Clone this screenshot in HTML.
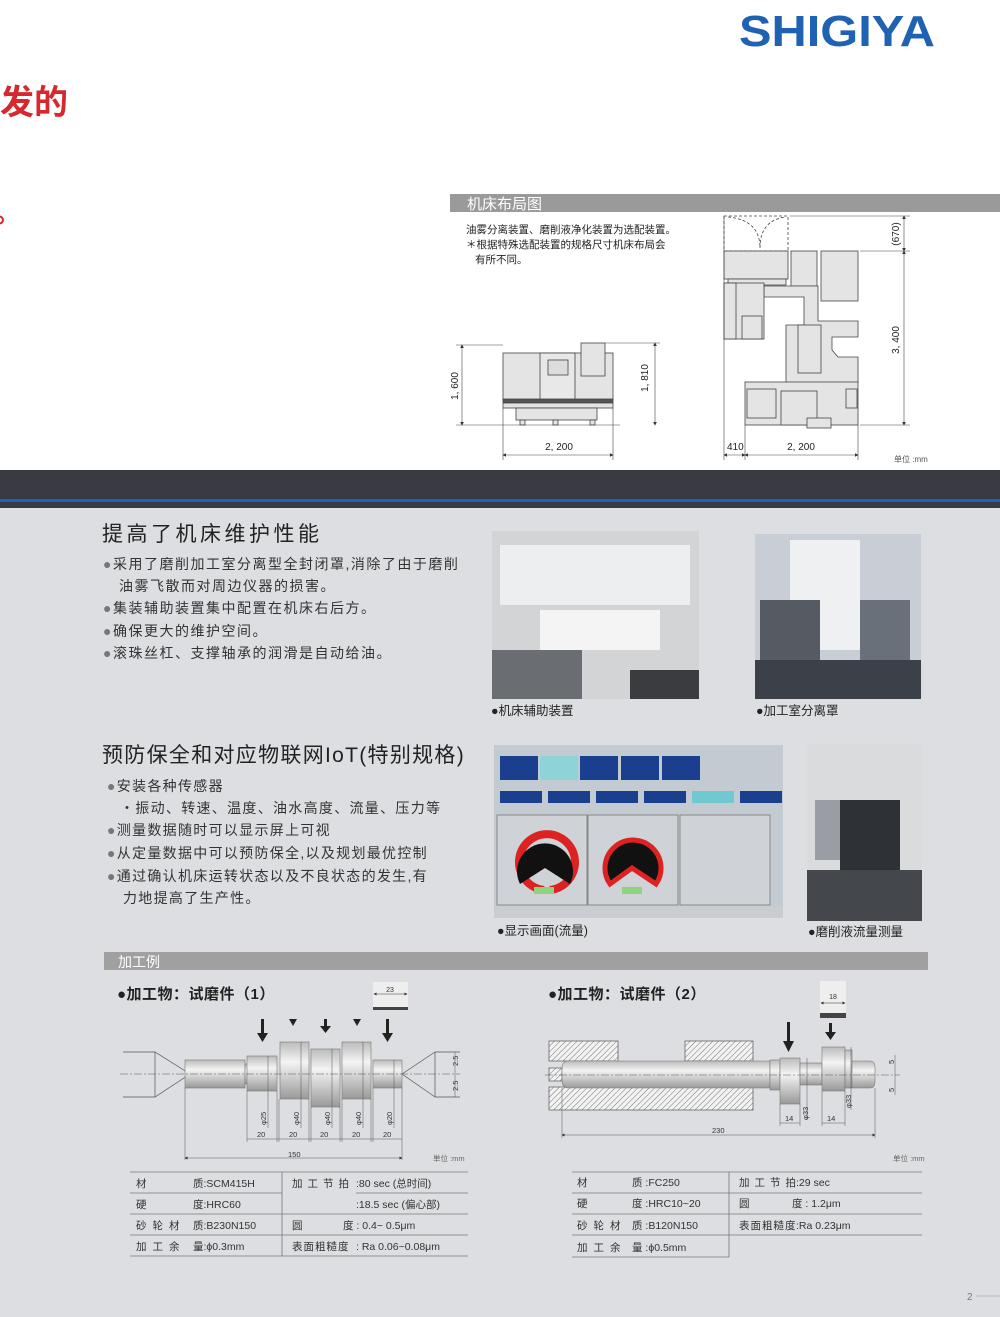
<!DOCTYPE html>
<html><head><meta charset="utf-8"><style>
html,body{margin:0;padding:0;background:#fff}
svg{display:block}
text{font-family:"Liberation Sans","Noto Sans CJK SC",sans-serif}
</style></head><body>
<svg width="1000" height="1317" viewBox="0 0 1000 1317" xmlns="http://www.w3.org/2000/svg">
<defs>
<pattern id="hat" width="4" height="4" patternUnits="userSpaceOnUse" patternTransform="rotate(45)"><rect width="4" height="4" fill="#f2f2f2"/><line x1="0" y1="0" x2="0" y2="4" stroke="#777" stroke-width="1"/></pattern>
<linearGradient id="sh" x1="0" y1="0" x2="0" y2="1"><stop offset="0" stop-color="#bbb"/><stop offset="0.35" stop-color="#f4f4f4"/><stop offset="1" stop-color="#999"/></linearGradient>
<marker id="ar" markerWidth="6" markerHeight="6" refX="5" refY="3" orient="auto"><path d="M0,0 L6,3 L0,6z" fill="#333"/></marker>
<marker id="al" markerWidth="6" markerHeight="6" refX="1" refY="3" orient="auto"><path d="M6,0 L0,3 L6,6z" fill="#333"/></marker>
</defs>
<rect width="1000" height="470" fill="#fff"/>
<text x="739" y="46" font-size="44" font-weight="bold" fill="#1f62b3" textLength="196" lengthAdjust="spacingAndGlyphs">SHIGIYA</text>
<text x="0" y="114" font-size="34" font-weight="bold" fill="#d7282f">发的</text>
<text x="-6" y="222" font-size="28" font-weight="bold" fill="#d7282f">。</text>

<rect x="450" y="194" width="550" height="18" fill="#9a9a9a"/>
<text x="467" y="209" font-size="15" fill="#fff">机床布局图</text>
<text font-size="10.5" fill="#222"><tspan x="466" y="233">油雾分离装置、磨削液净化装置为选配装置。</tspan><tspan x="466" y="248">＊根据特殊选配装置的规格尺寸机床布局会</tspan><tspan x="475" y="263">有所不同。</tspan></text>

<!-- left machine -->
<g stroke="#444" stroke-width="0.8" fill="#e4e4e4">
<rect x="503" y="353" width="110" height="47"/>
<rect x="540" y="353" width="35" height="47" fill="#e8e8e8"/>
<rect x="548" y="360" width="20" height="15" fill="#ddd"/>
<rect x="581" y="343" width="24" height="33"/>
<rect x="503" y="399" width="110" height="4" fill="#555"/>
<rect x="503" y="403" width="110" height="5"/>
<rect x="516" y="408" width="81" height="12"/>
<rect x="520" y="420" width="5" height="5"/><rect x="553" y="420" width="5" height="5"/><rect x="590" y="420" width="5" height="5"/>
</g>
<g stroke="#444" stroke-width="0.6" fill="none">
<line x1="456" y1="345" x2="503" y2="345"/><line x1="456" y1="425" x2="620" y2="425"/>
<line x1="462" y1="345" x2="462" y2="425" marker-start="url(#al)" marker-end="url(#ar)"/>
<line x1="605" y1="343" x2="660" y2="343"/>
<line x1="655" y1="343" x2="655" y2="425" marker-start="url(#al)" marker-end="url(#ar)"/>
<line x1="503" y1="408" x2="503" y2="460"/><line x1="613" y1="408" x2="613" y2="460"/>
<line x1="503" y1="455" x2="613" y2="455" marker-start="url(#al)" marker-end="url(#ar)"/>
</g>
<text x="458" y="386" font-size="10" fill="#222" transform="rotate(-90 458 386)" text-anchor="middle">1, 600</text>
<text x="648" y="378" font-size="10" fill="#222" transform="rotate(-90 648 378)" text-anchor="middle">1, 810</text>
<text x="559" y="450" font-size="10" fill="#222" text-anchor="middle">2, 200</text>

<!-- right layout -->
<g stroke="#444" stroke-width="0.8" fill="#e4e4e4">
<rect x="724" y="216" width="64" height="35" fill="none" stroke-dasharray="3,2"/>
<path d="M728,217 Q760,220 760,248 Q760,220 786,217" fill="none" stroke-dasharray="3,2"/>
<rect x="724" y="251" width="64" height="28"/>
<rect x="728" y="279" width="58" height="6"/>
<rect x="791" y="251" width="26" height="35"/>
<rect x="821" y="251" width="37" height="50"/>
<path d="M764,286 H818 V321 H858 V337 H832 V350 L838,357 H858 V383 H786 V325 H804 V297 H764Z"/>
<rect x="798" y="325" width="23" height="48"/>
<rect x="724" y="283" width="40" height="56"/>
<rect x="724" y="283" width="12" height="56"/>
<rect x="742" y="316" width="20" height="23"/>
<rect x="745" y="382" width="113" height="43"/>
<rect x="747" y="389" width="29" height="29"/>
<rect x="781" y="391" width="36" height="34"/>
<rect x="846" y="389" width="11" height="19"/>
<rect x="807" y="418" width="24" height="10"/>
</g>
<g stroke="#444" stroke-width="0.6" fill="none">
<line x1="724" y1="216" x2="724" y2="460"/><line x1="745" y1="425" x2="745" y2="460"/><line x1="858" y1="425" x2="858" y2="460"/>
<line x1="724" y1="455" x2="745" y2="455" marker-start="url(#al)" marker-end="url(#ar)"/>
<line x1="745" y1="455" x2="858" y2="455" marker-start="url(#al)" marker-end="url(#ar)"/>
<line x1="860" y1="251" x2="910" y2="251"/><line x1="860" y1="425" x2="910" y2="425"/><line x1="790" y1="216" x2="910" y2="216"/>
<line x1="904" y1="216" x2="904" y2="251" marker-start="url(#al)" marker-end="url(#ar)"/>
<line x1="904" y1="251" x2="904" y2="425" marker-start="url(#al)" marker-end="url(#ar)"/>
</g>
<text x="899" y="234" font-size="10" fill="#222" transform="rotate(-90 899 234)" text-anchor="middle">(670)</text>
<text x="899" y="340" font-size="10" fill="#222" transform="rotate(-90 899 340)" text-anchor="middle">3, 400</text>
<text x="727" y="450" font-size="10" fill="#222">410</text>
<text x="801" y="450" font-size="10" fill="#222" text-anchor="middle">2, 200</text>
<text x="894" y="462" font-size="8" fill="#555">单位 :mm</text>

<!-- band -->
<rect x="0" y="470" width="1000" height="847" fill="#dcdee1"/>
<rect x="0" y="470" width="1000" height="38" fill="#393a42"/>
<rect x="0" y="499" width="1000" height="3" fill="#1a63b8"/>

<!-- section 1 -->
<text x="102" y="541" font-size="21" fill="#222" letter-spacing="3.5">提高了机床维护性能</text>
<g font-size="14" fill="#333" letter-spacing="1.5">
<text x="103" y="569"><tspan fill="#777">●</tspan>采用了磨削加工室分离型全封闭罩,消除了由于磨削</text>
<text x="119" y="591">油雾飞散而对周边仪器的损害。</text>
<text x="103" y="613"><tspan fill="#777">●</tspan>集装辅助装置集中配置在机床右后方。</text>
<text x="103" y="636"><tspan fill="#777">●</tspan>确保更大的维护空间。</text>
<text x="103" y="658"><tspan fill="#777">●</tspan>滚珠丝杠、支撑轴承的润滑是自动给油。</text>
</g>
<rect x="492" y="531" width="207" height="168" fill="#d2d4d6"/>
<rect x="500" y="545" width="190" height="60" fill="#eceef0"/>
<rect x="540" y="610" width="120" height="40" fill="#f4f4f4"/>
<rect x="492" y="650" width="90" height="49" fill="#6a6d72"/>
<rect x="630" y="670" width="69" height="29" fill="#3a3c40"/>
<rect x="755" y="534" width="166" height="165" fill="#c9ced6"/>
<rect x="790" y="540" width="70" height="110" fill="#eef0f2"/>
<rect x="760" y="600" width="60" height="60" fill="#555a63"/>
<rect x="860" y="600" width="50" height="60" fill="#6a707a"/>
<rect x="755" y="660" width="166" height="39" fill="#3c4048"/>
<text x="491" y="715" font-size="12.5" fill="#222">●机床辅助装置</text>
<text x="756" y="715" font-size="12.5" fill="#222">●加工室分离罩</text>

<!-- section 2 -->
<text x="102" y="762" font-size="21" fill="#222" letter-spacing="1.3">预防保全和对应物联网IoT(特别规格)</text>
<g font-size="14" fill="#333" letter-spacing="1.3">
<text x="107" y="791"><tspan fill="#777">●</tspan>安装各种传感器</text>
<text x="120" y="813">・振动、转速、温度、油水高度、流量、压力等</text>
<text x="107" y="835"><tspan fill="#777">●</tspan>测量数据随时可以显示屏上可视</text>
<text x="107" y="858"><tspan fill="#777">●</tspan>从定量数据中可以预防保全,以及规划最优控制</text>
<text x="107" y="881"><tspan fill="#777">●</tspan>通过确认机床运转状态以及不良状态的发生,有</text>
<text x="123" y="903">力地提高了生产性。</text>
</g>
<!-- screen -->
<rect x="494" y="745" width="289" height="173" fill="#c4cad2"/>
<g fill="#1b3f8f"><rect x="500" y="756" width="38" height="24"/><rect x="580" y="756" width="38" height="24"/><rect x="621" y="756" width="38" height="24"/><rect x="662" y="756" width="38" height="24"/>
<rect x="500" y="791" width="42" height="12"/><rect x="548" y="791" width="42" height="12"/><rect x="596" y="791" width="42" height="12"/><rect x="644" y="791" width="42" height="12"/><rect x="740" y="791" width="42" height="12"/></g>
<rect x="540" y="756" width="38" height="24" fill="#8fd3d8"/><rect x="692" y="791" width="42" height="12" fill="#6fc9cf"/>
<rect x="497" y="815" width="90" height="90" fill="#cfd3d8" stroke="#888"/><rect x="588" y="815" width="90" height="90" fill="#cfd3d8" stroke="#888"/><rect x="680" y="815" width="90" height="90" fill="#cfd3d8" stroke="#888"/>
<path d="M544,890 A28,28 0 1 1 550,890" fill="none" stroke="#d22" stroke-width="8"/>
<path d="M520,884 L545,868 L570,884 A28,28 0 1 0 520,884Z" fill="#111"/>
<path d="M610,884 L632,868 L656,884 A28,28 0 1 0 610,884Z" fill="#111" stroke="#d22" stroke-width="5"/>
<rect x="534" y="887" width="20" height="7" fill="#8fd37f"/><rect x="622" y="887" width="20" height="7" fill="#8fd37f"/>
<rect x="494" y="906" width="289" height="12" fill="#c9cdd2"/>
<rect x="807" y="744" width="115" height="177" fill="#d9dbdd"/>
<rect x="840" y="800" width="60" height="70" fill="#2e3136"/>
<rect x="815" y="800" width="25" height="60" fill="#9a9ea4"/>
<rect x="807" y="870" width="115" height="51" fill="#44474c"/>
<text x="497" y="935" font-size="12.5" fill="#222">●显示画面(流量)</text>
<text x="808" y="936" font-size="12.5" fill="#222">●磨削液流量测量</text>

<!-- 加工例 -->
<rect x="104" y="952" width="824" height="18" fill="#a0a0a0"/>
<text x="118" y="967" font-size="14" fill="#fff">加工例</text>

<!-- part 1 -->
<text x="117" y="999" font-size="15" font-weight="bold" fill="#222" letter-spacing="0.5">●加工物：试磨件（1）</text>
<rect x="373" y="982" width="35" height="28" fill="#eee"/><rect x="373" y="1007" width="35" height="3" fill="#444"/>
<line x1="374" y1="994" x2="407" y2="994" stroke="#333" stroke-width="0.5" marker-start="url(#al)" marker-end="url(#ar)"/>
<text x="390" y="992" font-size="7" text-anchor="middle" fill="#333">23</text>
<g fill="#222">
<rect x="261" y="1019" width="3" height="15"/><path d="M257,1033 h11 l-5.5,9z"/>
<path d="M289,1019 h8 l-4,7z"/>
<rect x="324" y="1019" width="3" height="9"/><path d="M320,1026 h11 l-5.5,7z"/>
<path d="M353,1019 h8 l-4,7z"/>
<rect x="386" y="1019" width="3" height="15"/><path d="M382,1033 h11 l-5.5,9z"/>
</g>
<g stroke="#555" stroke-width="0.7" fill="none">
<path d="M123,1052 H155 L190,1074 L155,1097 H123"/><line x1="155" y1="1052" x2="155" y2="1097"/>
<path d="M435,1052 L402,1074 L435,1097"/><line x1="435" y1="1052" x2="435" y2="1097"/><line x1="435" y1="1052" x2="460" y2="1052"/><line x1="435" y1="1097" x2="460" y2="1097"/>
</g>
<g stroke="#777" stroke-width="0.6" fill="url(#sh)">
<rect x="185" y="1060" width="60" height="28"/><rect x="245" y="1064" width="3" height="20"/>
<rect x="247" y="1056" width="30" height="35"/>
<rect x="280" y="1042" width="29" height="57"/>
<rect x="311" y="1049" width="29" height="58"/>
<rect x="342" y="1042" width="29" height="57"/>
<rect x="373" y="1060" width="29" height="28"/>
</g>
<line x1="120" y1="1074" x2="460" y2="1074" stroke="#555" stroke-width="0.5" stroke-dasharray="8,2,2,2"/>
<g stroke="#555" stroke-width="0.5" fill="none">
<line x1="247" y1="1091" x2="247" y2="1142"/><line x1="277" y1="1091" x2="277" y2="1142"/><line x1="279" y1="1099" x2="279" y2="1142"/><line x1="309" y1="1099" x2="309" y2="1142"/><line x1="311" y1="1107" x2="311" y2="1142"/><line x1="340" y1="1107" x2="340" y2="1142"/><line x1="342" y1="1099" x2="342" y2="1142"/><line x1="371" y1="1099" x2="371" y2="1142"/><line x1="373" y1="1088" x2="373" y2="1142"/><line x1="402" y1="1088" x2="402" y2="1160"/><line x1="185" y1="1088" x2="185" y2="1160"/>
<line x1="247" y1="1139" x2="402" y2="1139"/>
<line x1="185" y1="1158" x2="402" y2="1158" marker-start="url(#al)" marker-end="url(#ar)"/>
<line x1="268" y1="1056" x2="268" y2="1128"/><line x1="301" y1="1042" x2="301" y2="1128"/><line x1="332" y1="1049" x2="332" y2="1128"/><line x1="363" y1="1042" x2="363" y2="1128"/><line x1="394" y1="1060" x2="394" y2="1128"/>
<line x1="455" y1="1052" x2="455" y2="1097"/>
</g>
<g font-size="7.5" fill="#333">
<text x="257" y="1137">20</text><text x="289" y="1137">20</text><text x="320" y="1137">20</text><text x="352" y="1137">20</text><text x="383" y="1137">20</text>
<text x="288" y="1157">150</text>
<text x="266" y="1125" transform="rotate(-90 266 1125)">φ25</text><text x="299" y="1125" transform="rotate(-90 299 1125)">φ40</text><text x="330" y="1125" transform="rotate(-90 330 1125)">φ40</text><text x="361" y="1125" transform="rotate(-90 361 1125)">φ40</text><text x="392" y="1125" transform="rotate(-90 392 1125)">φ20</text>
<text x="458" y="1066" transform="rotate(-90 458 1066)">2.5</text><text x="458" y="1091" transform="rotate(-90 458 1091)">2.5</text>
<text x="433" y="1161" fill="#666">単位 :mm</text>
</g>
<!-- table 1 -->
<g stroke="#777" stroke-width="0.8">
<line x1="130" y1="1172" x2="468" y2="1172"/><line x1="130" y1="1193" x2="282" y2="1193"/><line x1="356" y1="1193" x2="468" y2="1193"/>
<line x1="130" y1="1214" x2="468" y2="1214"/><line x1="130" y1="1235" x2="468" y2="1235"/><line x1="130" y1="1256" x2="468" y2="1256"/>
<line x1="282" y1="1172" x2="282" y2="1256"/>
</g>
<g font-size="10.5" fill="#333">
<text x="136" y="1187">材</text><text x="193" y="1187">质:SCM415H</text>
<text x="136" y="1208">硬</text><text x="193" y="1208">度:HRC60</text>
<text x="136" y="1229" letter-spacing="6">砂轮材</text><text x="193" y="1229">质:B230N150</text>
<text x="136" y="1250" letter-spacing="6">加工余</text><text x="193" y="1250">量:ϕ0.3mm</text>
<text x="292" y="1187" letter-spacing="5">加工节拍</text><text x="356" y="1187">:80 sec (总时间)</text>
<text x="356" y="1208">:18.5 sec (偏心部)</text>
<text x="292" y="1229">圆</text><text x="343" y="1229">度 : 0.4~ 0.5μm</text>
<text x="292" y="1250" letter-spacing="1">表面粗糙度</text><text x="356" y="1250">: Ra 0.06~0.08μm</text>
</g>

<!-- part 2 -->
<text x="548" y="999" font-size="15" font-weight="bold" fill="#222" letter-spacing="0.5">●加工物：试磨件（2）</text>
<rect x="820" y="981" width="26" height="37" fill="#eee"/><rect x="820" y="1013" width="26" height="5" fill="#444"/>
<line x1="821" y1="1003" x2="845" y2="1003" stroke="#333" stroke-width="0.5" marker-start="url(#al)" marker-end="url(#ar)"/>
<text x="833" y="999" font-size="7" text-anchor="middle" fill="#333">18</text>
<g fill="#222">
<rect x="787" y="1022" width="3" height="20"/><path d="M783,1041 h11 l-5.5,11z"/>
<rect x="829" y="1023" width="3" height="10"/><path d="M825,1032 h11 l-5.5,8z"/>
</g>
<g stroke="#555" stroke-width="0.7" fill="url(#hat)">
<rect x="549" y="1041" width="69" height="20"/><rect x="685" y="1041" width="68" height="20"/>
<rect x="549" y="1087" width="204" height="23"/><rect x="549" y="1068" width="13" height="13"/>
</g>
<g stroke="#777" stroke-width="0.6" fill="url(#sh)">
<path d="M568,1061 H770 V1088 H568 Q562,1088 562,1080 V1069 Q562,1061 568,1061Z"/>
<rect x="770" y="1060" width="10" height="30"/>
<rect x="780" y="1058" width="20" height="46"/>
<rect x="800" y="1063" width="22" height="22"/>
<rect x="822" y="1047" width="23" height="44"/>
<rect x="845" y="1050" width="7" height="38"/>
<path d="M852,1061 H870 Q875,1061 875,1068 V1081 Q875,1088 870,1088 H852Z"/>
</g>
<line x1="545" y1="1075" x2="900" y2="1075" stroke="#555" stroke-width="0.5" stroke-dasharray="8,2,2,2"/>
<g stroke="#555" stroke-width="0.5" fill="none">
<line x1="562" y1="1088" x2="562" y2="1138"/><line x1="875" y1="1088" x2="875" y2="1138"/>
<line x1="562" y1="1135" x2="875" y2="1135" marker-start="url(#al)" marker-end="url(#ar)"/>
<line x1="780" y1="1104" x2="780" y2="1126"/><line x1="800" y1="1104" x2="800" y2="1126"/><line x1="780" y1="1123" x2="800" y2="1123"/>
<line x1="822" y1="1091" x2="822" y2="1126"/><line x1="845" y1="1091" x2="845" y2="1126"/><line x1="822" y1="1123" x2="845" y2="1123"/>
<line x1="807" y1="1058" x2="807" y2="1120"/><line x1="851" y1="1047" x2="851" y2="1110"/>
<line x1="895" y1="1055" x2="895" y2="1095"/>
</g>
<g font-size="7.5" fill="#333">
<text x="785" y="1121">14</text><text x="827" y="1121">14</text><text x="712" y="1133">230</text>
<text x="808" y="1120" transform="rotate(-90 808 1120)">φ33</text><text x="851" y="1108" transform="rotate(-90 851 1108)">φ33</text>
<text x="894" y="1064" transform="rotate(-90 894 1064)">5</text><text x="894" y="1092" transform="rotate(-90 894 1092)">5</text>
<text x="893" y="1161" fill="#666">单位 :mm</text>
</g>
<g stroke="#777" stroke-width="0.8">
<line x1="572" y1="1172" x2="922" y2="1172"/><line x1="572" y1="1193" x2="922" y2="1193"/><line x1="572" y1="1214" x2="922" y2="1214"/><line x1="572" y1="1235" x2="922" y2="1235"/><line x1="572" y1="1257" x2="729" y2="1257"/>
<line x1="729" y1="1172" x2="729" y2="1257"/>
</g>
<g font-size="10.5" fill="#333">
<text x="577" y="1186">材</text><text x="632" y="1186">质 :FC250</text>
<text x="577" y="1207">硬</text><text x="632" y="1207">度 :HRC10~20</text>
<text x="577" y="1229" letter-spacing="6">砂轮材</text><text x="632" y="1229">质 :B120N150</text>
<text x="577" y="1251" letter-spacing="6">加工余</text><text x="632" y="1251">量 :ϕ0.5mm</text>
<text x="739" y="1186" letter-spacing="5">加工节拍</text><text x="796" y="1186">:29 sec</text>
<text x="739" y="1207">圆</text><text x="792" y="1207">度 : 1.2μm</text>
<text x="739" y="1229" letter-spacing="1">表面粗糙度</text><text x="796" y="1229">:Ra 0.23μm</text>
</g>

<text x="967" y="1300" font-size="10" fill="#777">2</text>
<line x1="976" y1="1296" x2="1000" y2="1296" stroke="#999" stroke-width="0.6"/>
</svg>
</body></html>
